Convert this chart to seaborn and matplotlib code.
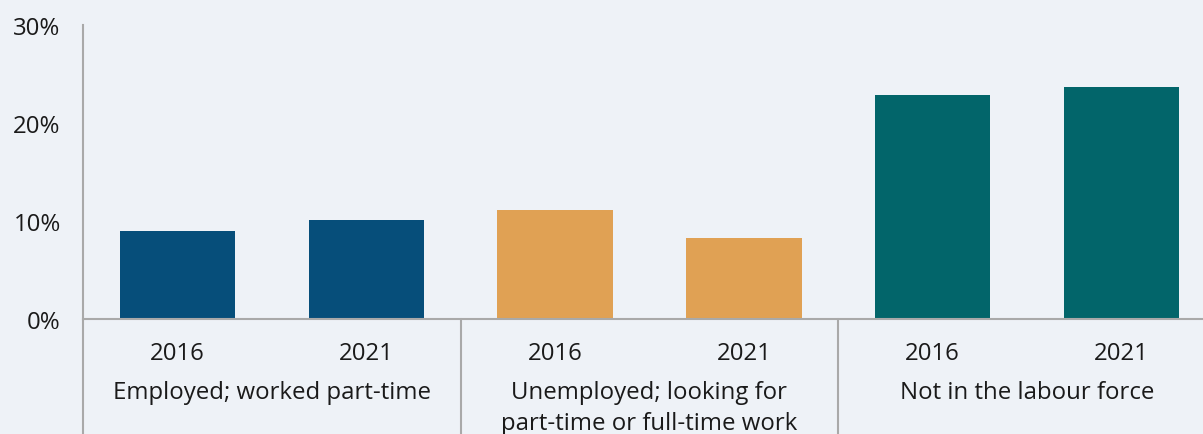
import pandas as pd
import matplotlib
matplotlib.use("Agg")
import matplotlib.pyplot as plt
import seaborn as sns
from matplotlib.ticker import FuncFormatter

# Data
groups = ["Employed; worked part-time",
          "Unemployed; looking for\npart-time or full-time work",
          "Not in the labour force"]
years = ["2016", "2021"]
employed = [9.0, 10.1]
unemployed = [11.1, 8.3]
not_in_lf = [22.9, 23.7]
colors = ["#064e7a", "#e0a154", "#02656a"]

rows = []
for g, vals in zip(groups, [employed, unemployed, not_in_lf]):
    for y, v in zip(years, vals):
        rows.append({"group": g, "year": y, "key": g + " " + y, "value": v})
df = pd.DataFrame(rows)

bg = "#eef2f7"
grey = "#a9a9a9"

sns.set_style("white")
plt.rcParams['font.family'] = ['Open Sans', 'DejaVu Sans']
plt.rcParams['font.size'] = 17.3

fig = plt.figure(figsize=(12.03, 4.35), dpi=100, facecolor=bg)
W, H = 1203, 435
ax = fig.add_axes([83 / W, (H - 320) / H, (1216 - 83) / W, (320 - 26) / H])
ax.set_facecolor(bg)

sns.barplot(data=df, x="key", y="value", hue="group", palette=colors,
            width=0.61, dodge=False, legend=False, ax=ax, saturation=1,
            linewidth=0)

ax.set_xlim(-0.5, 5.5)
ax.set_ylim(0, 30)
ax.set_yticks([0, 10, 20, 30])
ax.yaxis.set_major_formatter(FuncFormatter(lambda v, p: f"{v:.0f}%"))
ax.set_xticks(range(len(df)))
ax.set_xticklabels(df["year"])
ax.set_xlabel("")
ax.set_ylabel("")

for s in ["top", "right"]:
    ax.spines[s].set_visible(False)
for s in ["left", "bottom"]:
    ax.spines[s].set_color(grey)
    ax.spines[s].set_linewidth(1.5)

ax.tick_params(axis="y", length=6, width=1.5, color=grey, pad=10,
               labelcolor="#1a1a1a", labelsize=17.3)
ax.tick_params(axis="x", length=0, pad=15.5, labelcolor="#1a1a1a", labelsize=17.3)

# group separators below the axis
for xs in [-0.5, 1.5, 3.5]:
    ax.plot([xs, xs], [0, -0.5], transform=ax.get_xaxis_transform(),
            color=grey, lw=1.5, clip_on=False)

# group labels
for i, g in enumerate(groups):
    ax.annotate(g, xy=(2 * i + 0.5, 0), xycoords=("data", "axes fraction"),
                xytext=(0, -44), textcoords="offset points",
                ha="center", va="top", fontsize=17.3, color="#1a1a1a",
                linespacing=1.38)

fig.savefig("out.png", dpi=100, facecolor=bg)
